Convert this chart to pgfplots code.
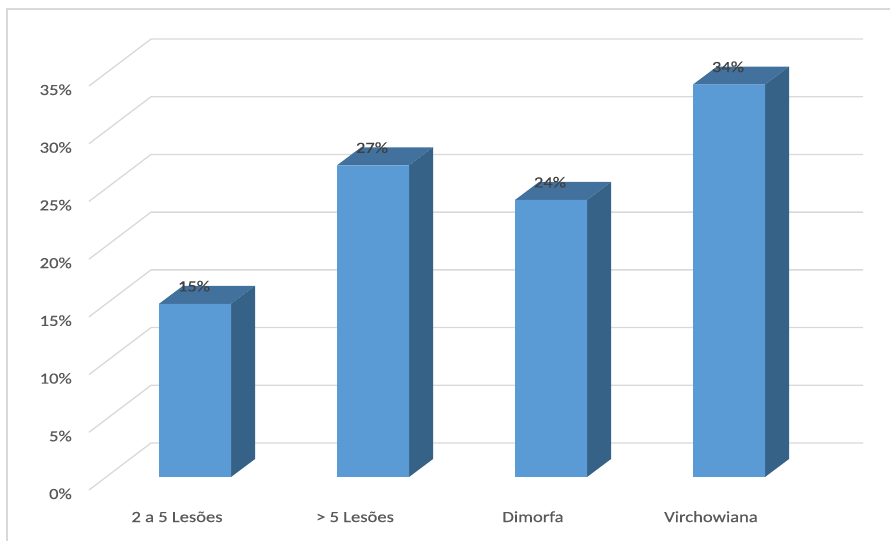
\documentclass[border=0pt]{standalone}
\usepackage{pgfplots}
\pgfplotsset{compat=1.18}
\usepackage{pgfplotstable}
\usepackage{fontspec}
\setmainfont{Carlito}[FakeStretch=1.2, FakeBold=0.3]

\definecolor{barfront}{HTML}{5B9BD5}
\definecolor{bartop}{HTML}{41719C}
\definecolor{barside}{HTML}{376288}
\definecolor{gridc}{HTML}{D9D9D9}
\definecolor{labc}{HTML}{595959}
\definecolor{valc}{HTML}{404040}

% share of cases per category (%)
\pgfplotstableread{
idx value
0 15
1 27
2 24
3 34
}\bardata

\begin{document}
\begin{tikzpicture}
\path[use as bounding box] (0,0) rectangle (890bp,541bp);
% chart area border
\draw[gridc, line width=1.3bp] (7bp,0) -- (7bp,532bp) -- (890bp,532bp);
\begin{axis}[
  at={(106bp,64bp)}, anchor=south west,
  scale only axis, width=712bp, height=404bp,
  xmin=-0.5, xmax=3.5, ymin=0, ymax=35,
  clip=false,
  axis line style={draw=none}, tick style={draw=none},
  /pgf/number format/assume math mode=true,
  xtick={0,1,2,3},
  xticklabels={2 a 5 Lesões, > 5 Lesões, Dimorfa, Virchowiana},
  ytick={0,5,...,35},
  yticklabels={0\%,5\%,10\%,15\%,20\%,25\%,30\%,35\%},
  tick label style={font=\fontsize{15.5bp}{18bp}\selectfont, text=labc, inner sep=0pt},
  xticklabel style={anchor=base, xshift=-18bp, yshift=-45bp},
  yticklabel style={anchor=base east, xshift=-34bp, yshift=-22bp},
]
% side wall and back wall gridlines (oblique projection)
\pgfplotsinvokeforeach{0,5,...,35}{
  \draw[gridc, line width=1.3bp]
    ([shift={(-17bp,-13bp)}]axis cs:-0.5,#1) --
    ([shift={(45bp,34bp)}]axis cs:-0.5,#1) --
    ([shift={(45bp,34bp)}]axis cs:3.5,#1);
}
% top and side faces of each column
\pgfplotsinvokeforeach{0,...,3}{
  \pgfplotstablegetelem{#1}{value}\of\bardata
  \edef\facecmd{%
    \noexpand\fill[barside]
      ([xshift=36bp]axis cs:#1,0) --
      ([xshift=36bp]axis cs:#1,\pgfplotsretval) --
      ([shift={(60bp,18bp)}]axis cs:#1,\pgfplotsretval) --
      ([shift={(60bp,18bp)}]axis cs:#1,0) -- cycle;
    \noexpand\fill[bartop]
      ([xshift=-36bp]axis cs:#1,\pgfplotsretval) --
      ([xshift=36bp]axis cs:#1,\pgfplotsretval) --
      ([shift={(60bp,18bp)}]axis cs:#1,\pgfplotsretval) --
      ([shift={(-12bp,18bp)}]axis cs:#1,\pgfplotsretval) -- cycle;
  }%
  \facecmd
}
% front faces with value labels
\addplot[ybar, bar width=72bp, fill=barfront, draw=none,
  nodes near coords={\pgfmathprintnumber{\pgfplotspointmeta}\%},
  every node near coord/.append style={anchor=base, yshift=12.5bp, xshift=-1bp,
    inner sep=0pt, font=\fontsize{15.5bp}{18bp}\selectfont, text=valc},
] table[x=idx, y=value] {\bardata};
\end{axis}
\end{tikzpicture}
\end{document}
